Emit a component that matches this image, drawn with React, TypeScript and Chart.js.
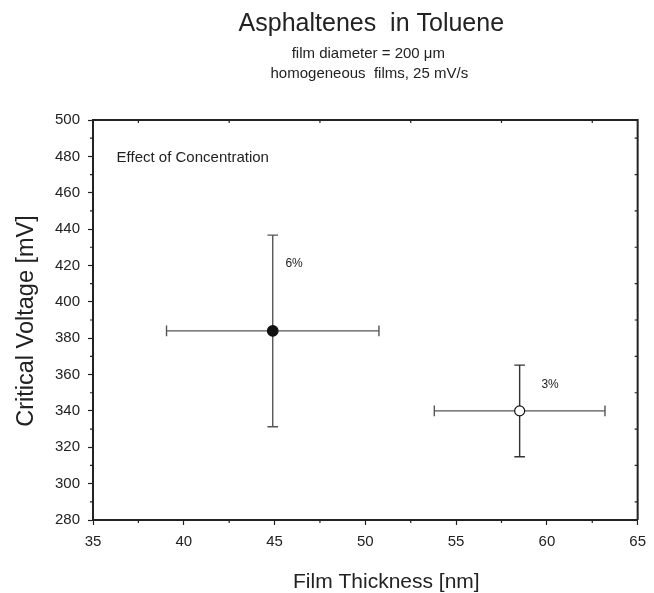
import React, { useEffect, useRef } from "react";
import { Chart, registerables } from "chart.js";

Chart.register(...registerables);

// Asphaltene films in toluene: critical voltage vs. film thickness
const concentrationLabels = ["6%", "3%"];
const filmThickness = [44.9, 58.5]; // nm
const filmThicknessErr = [5.85, 4.7]; // nm
const criticalVoltage = [384, 340]; // mV
const criticalVoltageErr = [52.7, 25.2]; // mV
const markerFill = ["#111111", "#ffffff"];

// label anchor points (data units)
const concentrationLabelX = [45.6, 59.7];
const concentrationLabelY = [421, 354.5];
const noteText = "Effect of Concentration";
const noteX = 36.3;
const noteY = 479.3;

const titleText = "Asphaltenes  in Toluene";
const subtitleLines = ["film diameter = 200 \u03bcm", "homogeneous  films, 25 mV/s"];
const xAxisTitle = "Film Thickness [nm]";
const yAxisTitle = "Critical Voltage [mV]";

const xRange = [35, 65];
const yRange = [280, 500];
const xMajorStep = 5;
const yMajorStep = 20;
const xMinorTicks = [37.5, 42.5, 47.5, 52.5, 57.5, 62.5];
const yMinorTicks = [290, 310, 330, 350, 370, 390, 410, 430, 450, 470, 490];

const FONT = "'Liberation Sans', Arial, Helvetica, sans-serif";
const INK = "#222222";

const errorBarPlugin = {
  id: "errorBars",
  beforeDatasetsDraw(chart: any) {
    const { ctx, scales } = chart;
    const xs = scales.x;
    const ys = scales.y;
    const cap = 5.3;
    ctx.save();
    ctx.lineWidth = 1.4;
    for (let i = 0; i < filmThickness.length; i++) {
      const cx = xs.getPixelForValue(filmThickness[i]);
      const cy = ys.getPixelForValue(criticalVoltage[i]);
      const x0 = xs.getPixelForValue(filmThickness[i] - filmThicknessErr[i]);
      const x1 = xs.getPixelForValue(filmThickness[i] + filmThicknessErr[i]);
      const y0 = ys.getPixelForValue(criticalVoltage[i] - criticalVoltageErr[i]);
      const y1 = ys.getPixelForValue(criticalVoltage[i] + criticalVoltageErr[i]);
      // horizontal bar
      ctx.strokeStyle = "#555555";
      ctx.beginPath();
      ctx.moveTo(x0, cy);
      ctx.lineTo(x1, cy);
      ctx.moveTo(x0, cy - cap);
      ctx.lineTo(x0, cy + cap);
      ctx.moveTo(x1, cy - cap);
      ctx.lineTo(x1, cy + cap);
      ctx.stroke();
      // vertical bar
      ctx.strokeStyle = i === 0 ? "#555555" : "#333333";
      ctx.beginPath();
      ctx.moveTo(cx, y0);
      ctx.lineTo(cx, y1);
      ctx.moveTo(cx - cap, y0);
      ctx.lineTo(cx + cap, y0);
      ctx.moveTo(cx - cap, y1);
      ctx.lineTo(cx + cap, y1);
      ctx.stroke();
    }
    ctx.restore();
  },
};

const framePlugin = {
  id: "frameAndText",
  afterDraw(chart: any) {
    const { ctx, chartArea, scales } = chart;
    const xs = scales.x;
    const ys = scales.y;
    const { left, right, top, bottom } = chartArea;
    ctx.save();

    // top and right frame lines
    ctx.strokeStyle = INK;
    ctx.lineWidth = 2;
    ctx.beginPath();
    ctx.moveTo(left, top);
    ctx.lineTo(right, top);
    ctx.lineTo(right, bottom);
    ctx.stroke();

    // minor ticks: outward on bottom/left, inward on top/right
    ctx.lineWidth = 1.2;
    ctx.beginPath();
    for (const v of xMinorTicks) {
      const px = xs.getPixelForValue(v);
      ctx.moveTo(px, bottom);
      ctx.lineTo(px, bottom + 3);
      ctx.moveTo(px, top);
      ctx.lineTo(px, top + 3);
    }
    for (const v of yMinorTicks) {
      const py = ys.getPixelForValue(v);
      ctx.moveTo(left, py);
      ctx.lineTo(left - 3, py);
      ctx.moveTo(right, py);
      ctx.lineTo(right - 3, py);
    }
    ctx.stroke();

    // annotations
    ctx.fillStyle = INK;
    ctx.textBaseline = "middle";
    ctx.textAlign = "left";
    ctx.font = `15px ${FONT}`;
    ctx.fillText(noteText, xs.getPixelForValue(noteX), ys.getPixelForValue(noteY));
    ctx.font = `12px ${FONT}`;
    for (let i = 0; i < concentrationLabels.length; i++) {
      ctx.fillText(
        concentrationLabels[i],
        xs.getPixelForValue(concentrationLabelX[i]),
        ys.getPixelForValue(concentrationLabelY[i])
      );
    }

    // axis titles
    ctx.textAlign = "center";
    ctx.textBaseline = "alphabetic";
    ctx.font = `21px ${FONT}`;
    ctx.fillText(xAxisTitle, (left + right) / 2 + 21, 588);
    ctx.save();
    ctx.translate(33, (top + bottom) / 2 + 1);
    ctx.rotate(-Math.PI / 2);
    ctx.font = `23.5px ${FONT}`;
    ctx.fillText(yAxisTitle, 0, 0);
    ctx.restore();

    // chart titles
    const cx = (left + right) / 2;
    ctx.font = `25px ${FONT}`;
    ctx.fillText(titleText, cx + 6, 31);
    ctx.font = `15px ${FONT}`;
    ctx.fillText(subtitleLines[0], cx + 3, 57.5);
    ctx.fillText(subtitleLines[1], cx + 4, 77.5);
    ctx.restore();
  },
};

export default function App() {
  const canvasRef = useRef<HTMLCanvasElement | null>(null);

  useEffect(() => {
    const canvas = canvasRef.current;
    if (!canvas) return;
    const chart = new Chart(canvas, {
      type: "scatter",
      data: {
        datasets: [
          {
            label: "Asphaltenes",
            data: filmThickness.map((x, i) => ({ x, y: criticalVoltage[i] })),
            pointRadius: [5.3, 5],
            pointHoverRadius: [5.3, 5],
            pointBackgroundColor: markerFill,
            pointBorderColor: "#111111",
            pointBorderWidth: 1.2,
          },
        ],
      },
      options: {
        responsive: false,
        animation: false,
        events: [],
        layout: { padding: { top: 120, right: 10, left: 0, bottom: 0 } },
        plugins: {
          legend: { display: false },
          tooltip: { enabled: false },
          title: { display: false },
        },
        scales: {
          x: {
            type: "linear",
            min: xRange[0],
            max: xRange[1],
            afterFit: (s: any) => {
              s.height = 73;
            },
            border: { display: true, color: INK, width: 2 },
            grid: {
              drawOnChartArea: false,
              drawTicks: true,
              tickLength: 5,
              tickColor: INK,
              tickWidth: 1.2,
            },
            ticks: {
              stepSize: xMajorStep,
              autoSkip: false,
              maxRotation: 0,
              padding: 8,
              color: INK,
              font: { family: FONT, size: 15 },
            },
          },
          y: {
            type: "linear",
            min: yRange[0],
            max: yRange[1],
            afterFit: (s: any) => {
              s.width = 93;
            },
            border: { display: true, color: INK, width: 2 },
            grid: {
              drawOnChartArea: false,
              drawTicks: true,
              tickLength: 5,
              tickColor: INK,
              tickWidth: 1.2,
            },
            ticks: {
              stepSize: yMajorStep,
              autoSkip: false,
              padding: 8,
              color: INK,
              font: { family: FONT, size: 15 },
            },
          },
        },
      },
      plugins: [errorBarPlugin, framePlugin],
    });
    return () => chart.destroy();
  }, []);

  return (
    <div style={{ position: "absolute", left: 0, top: 0, width: 654, height: 593, background: "#fff" }}>
      <canvas ref={canvasRef} width={654} height={593} style={{ display: "block" }} />
    </div>
  );
}
